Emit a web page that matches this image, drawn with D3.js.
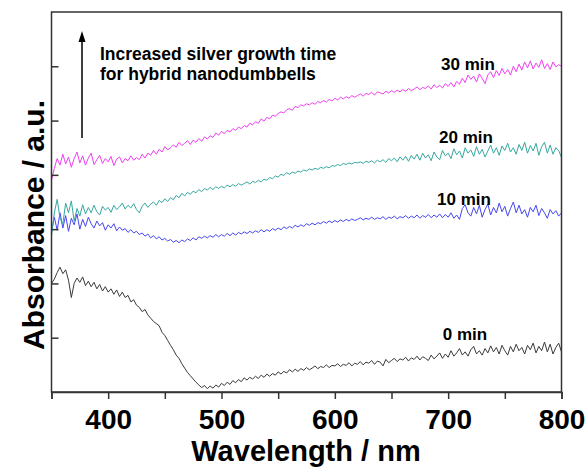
<!DOCTYPE html>
<html>
<head>
<meta charset="utf-8">
<script src="https://cdn.jsdelivr.net/npm/d3@7"></script>
<style>
  body { margin: 0; background: #fff; }
  text { font-family: "Liberation Sans", Arial, sans-serif; font-weight: bold; }
</style>
</head>
<body>
<div id="chart"></div>
<script>
// Wavelength grid (nm), one reading every 2.5 nm from 350 to 800
var wavelengths = d3.range(0, 181).map(function (i) { return 350 + i * 2.5; });

// Absorbance readings (a.u., offset per curve as in the figure), 4 per 10 nm
var abs0 = [
  2.00, 2.08, 2.20, 2.30, 2.18, 2.25, 2.06, 1.74, 2.00, 2.10, 2.02, 2.12,
  1.96, 2.04, 1.94, 2.02, 1.90, 1.98, 1.86, 1.94, 1.84, 1.90, 1.80, 1.88,
  1.76, 1.84, 1.74, 1.78, 1.66, 1.70, 1.60, 1.56, 1.48, 1.52, 1.42, 1.36,
  1.30, 1.26, 1.22, 1.10, 1.04, 0.95, 0.86, 0.78, 0.68, 0.62, 0.52, 0.44,
  0.36, 0.30, 0.24, 0.18, 0.13, 0.08, 0.12, 0.06, 0.11, 0.07, 0.13, 0.09,
  0.16, 0.12, 0.18, 0.14, 0.21, 0.17, 0.23, 0.19, 0.26, 0.22, 0.27, 0.24,
  0.29, 0.25, 0.31, 0.27, 0.33, 0.29, 0.34, 0.31, 0.37, 0.33, 0.38, 0.35,
  0.41, 0.37, 0.42, 0.38, 0.43, 0.40, 0.45, 0.41, 0.44, 0.48, 0.43, 0.47,
  0.45, 0.50, 0.45, 0.49, 0.48, 0.52, 0.47, 0.51, 0.49, 0.54, 0.48, 0.53,
  0.51, 0.56, 0.50, 0.55, 0.53, 0.58, 0.51, 0.57, 0.55, 0.48, 0.60, 0.54,
  0.58, 0.62, 0.56, 0.61, 0.59, 0.64, 0.57, 0.63, 0.60, 0.66, 0.59, 0.65,
  0.62, 0.58, 0.68, 0.61, 0.66, 0.72, 0.62, 0.70, 0.64, 0.76, 0.66, 0.72,
  0.80, 0.68, 0.74, 0.66, 0.78, 0.84, 0.70, 0.76, 0.68, 0.80, 0.72, 0.85,
  0.74, 0.82, 0.70, 0.86, 0.76, 0.68, 0.84, 0.74, 0.88, 0.76, 0.82, 0.70,
  0.86, 0.78, 0.90, 0.72, 0.84, 0.76, 0.92, 0.74, 0.88, 0.70, 0.82, 0.90,
  0.74];

var abs10 = [
  2.95, 3.22, 2.98, 3.30, 3.02, 3.25, 2.96, 3.20, 3.08, 3.28, 3.00, 3.18,
  3.05, 3.22, 3.10, 3.02, 3.15, 3.06, 3.12, 2.98, 3.08, 3.02, 3.10, 2.97,
  3.04, 2.98, 3.01, 2.94, 2.99, 2.93, 2.96, 2.90, 2.93, 2.87, 2.91, 2.84,
  2.88, 2.82, 2.86, 2.80, 2.83, 2.78, 2.81, 2.76, 2.79, 2.75, 2.80, 2.77,
  2.82, 2.79, 2.84, 2.80, 2.86, 2.83, 2.87, 2.84, 2.88, 2.85, 2.90, 2.86,
  2.90, 2.87, 2.92, 2.88, 2.93, 2.89, 2.94, 2.91, 2.95, 2.92, 2.96, 2.93,
  2.97, 2.94, 2.99, 2.95, 2.99, 2.96, 3.01, 2.98, 3.02, 2.99, 3.04, 3.01,
  3.05, 3.02, 3.07, 3.04, 3.08, 3.05, 3.10, 3.07, 3.11, 3.08, 3.12, 3.10,
  3.14, 3.11, 3.15, 3.12, 3.16, 3.13, 3.17, 3.14, 3.18, 3.15, 3.19, 3.16,
  3.18, 3.21, 3.17, 3.20, 3.18, 3.22, 3.18, 3.21, 3.19, 3.23, 3.18, 3.22,
  3.20, 3.24, 3.19, 3.23, 3.21, 3.25, 3.20, 3.24, 3.21, 3.26, 3.20, 3.25,
  3.22, 3.27, 3.21, 3.26, 3.22, 3.28, 3.21, 3.27, 3.22, 3.30, 3.20, 3.26,
  3.18, 3.38, 3.45, 3.30, 3.24, 3.40, 3.28, 3.44, 3.22, 3.36, 3.46, 3.26,
  3.40, 3.30, 3.48, 3.32, 3.42, 3.24, 3.38, 3.50, 3.30, 3.44, 3.28, 3.36,
  3.22, 3.40, 3.32, 3.44, 3.25, 3.38, 3.30, 3.20, 3.36, 3.28, 3.34, 3.24,
  3.30];

var abs20 = [
  2.88, 3.30, 3.55, 3.20, 3.10, 3.48, 3.30, 3.52, 3.15, 3.38, 3.24, 3.45,
  3.28, 3.40, 3.30, 3.44, 3.32, 3.26, 3.42, 3.35, 3.40, 3.31, 3.44, 3.36,
  3.41, 3.48, 3.37, 3.44, 3.39, 3.47, 3.36, 3.30, 3.42, 3.48, 3.40, 3.46,
  3.50, 3.44, 3.53, 3.49, 3.56, 3.51, 3.58, 3.54, 3.62, 3.58, 3.66, 3.61,
  3.68, 3.64, 3.70, 3.67, 3.73, 3.69, 3.75, 3.72, 3.77, 3.73, 3.78, 3.75,
  3.79, 3.76, 3.81, 3.78, 3.82, 3.79, 3.84, 3.81, 3.84, 3.87, 3.83, 3.88,
  3.86, 3.90, 3.87, 3.92, 3.90, 3.95, 3.93, 3.98, 3.96, 4.01, 3.99, 4.04,
  4.01, 4.05, 4.03, 4.07, 4.05, 4.09, 4.07, 4.11, 4.09, 4.12, 4.10, 4.14,
  4.12, 4.15, 4.13, 4.17, 4.16, 4.19, 4.17, 4.21, 4.19, 4.22, 4.20, 4.23,
  4.22, 4.24, 4.21, 4.25, 4.23, 4.26, 4.22, 4.27, 4.24, 4.28, 4.23, 4.30,
  4.26, 4.31, 4.24, 4.33, 4.27, 4.34, 4.25, 4.36, 4.29, 4.38, 4.27, 4.40,
  4.31, 4.37, 4.26, 4.42, 4.33, 4.28, 4.45, 4.35, 4.40, 4.30, 4.48, 4.37,
  4.44, 4.31, 4.50, 4.40, 4.46, 4.34, 4.52, 4.38, 4.47, 4.33, 4.44, 4.55,
  4.40, 4.50, 4.36, 4.53, 4.45, 4.58, 4.42, 4.50, 4.38, 4.56, 4.45, 4.60,
  4.40, 4.54, 4.44, 4.58, 4.36, 4.52, 4.60, 4.40, 4.55, 4.38, 4.50, 4.45,
  4.32];

var abs30 = [
  3.90, 4.12, 4.30, 4.18, 4.38, 4.20, 4.33, 4.14, 4.30, 4.42, 4.22, 4.35,
  4.18, 4.31, 4.40, 4.19, 4.28, 4.36, 4.21, 4.30, 4.24, 4.34, 4.17, 4.29,
  4.33, 4.22, 4.30, 4.26, 4.35, 4.27, 4.32, 4.28, 4.38, 4.31, 4.40, 4.36,
  4.45, 4.38, 4.47, 4.42, 4.52, 4.46, 4.50, 4.55, 4.51, 4.60, 4.54, 4.58,
  4.63, 4.56, 4.64, 4.60, 4.67, 4.62, 4.70, 4.66, 4.72, 4.69, 4.77, 4.73,
  4.80, 4.76, 4.82, 4.79, 4.85, 4.82, 4.88, 4.85, 4.91, 4.88, 4.95, 4.92,
  4.98, 4.95, 5.03, 4.99, 5.06, 5.03, 5.10, 5.08, 5.13, 5.16, 5.14, 5.20,
  5.22, 5.19, 5.26, 5.24, 5.29, 5.27, 5.31, 5.29, 5.33, 5.30, 5.35, 5.33,
  5.37, 5.34, 5.39, 5.36, 5.41, 5.38, 5.43, 5.40, 5.44, 5.41, 5.46, 5.43,
  5.46, 5.49, 5.45, 5.50, 5.48, 5.52, 5.47, 5.53, 5.51, 5.49, 5.54, 5.51,
  5.55, 5.52, 5.56, 5.53, 5.57, 5.54, 5.59, 5.55, 5.58, 5.62, 5.57, 5.61,
  5.59, 5.64, 5.58, 5.66, 5.61, 5.65, 5.60, 5.68, 5.63, 5.70, 5.62, 5.72,
  5.67, 5.78, 5.70, 5.84, 5.76, 5.82, 5.71, 5.86, 5.78, 5.68, 5.84, 5.90,
  5.79, 5.92, 5.83, 5.96, 5.86, 5.94, 5.84, 6.00, 5.90, 6.04, 5.93, 6.08,
  5.97, 6.10, 5.95, 6.06, 5.98, 6.12, 5.96, 6.05, 5.94, 6.08, 5.99, 6.03,
  6.00];

var seriesNames = ["0 min", "10 min", "20 min", "30 min"];
var seriesColors = ["#3a3a3a", "#4646f0", "#35a8a0", "#f040f0"];
var xTicks = [350, 400, 450, 500, 550, 600, 650, 700, 750, 800];
var xTickLabels = [400, 500, 600, 700, 800];
var yTicks = [1, 2, 3, 4, 5, 6];

// Chart size
var width = 587;
var height = 470;
var margin = { top: 12, right: 25.5, bottom: 78, left: 51.5 };
var innerWidth = width - margin.left - margin.right;
var innerHeight = height - margin.top - margin.bottom;

var svg = d3.select("#chart")
  .append("svg")
  .attr("width", width)
  .attr("height", height);

var g = svg.append("g")
  .attr("transform", "translate(" + margin.left + "," + margin.top + ")");

var xScale = d3.scaleLinear().domain([350, 800]).range([0, innerWidth]);
var yScale = d3.scaleLinear().domain([0, 7]).range([innerHeight, 0]);

// Curves
var allSeries = [abs0, abs10, abs20, abs30];
var line = d3.line()
  .x(function (d, i) { return xScale(wavelengths[i]); })
  .y(function (d) { return yScale(d); });

allSeries.forEach(function (vals, k) {
  g.append("path")
    .datum(vals)
    .attr("fill", "none")
    .attr("stroke", seriesColors[k])
    .attr("stroke-width", 1)
    .attr("stroke-linejoin", "round")
    .attr("d", line);
});

// Frame
g.append("rect")
  .attr("width", innerWidth)
  .attr("height", innerHeight)
  .attr("fill", "none")
  .attr("stroke", "#333")
  .attr("stroke-width", 1.5);

// X axis: ticks outward, labels every 100 nm
var xAxis = g.append("g")
  .attr("transform", "translate(0," + innerHeight + ")")
  .call(d3.axisBottom(xScale)
    .tickValues(xTicks)
    .tickSize(7)
    .tickFormat(function (d) { return xTickLabels.indexOf(d) >= 0 ? d : ""; }));
xAxis.select(".domain").attr("stroke", "#333").attr("stroke-width", 1.5);
xAxis.selectAll(".tick line").attr("stroke", "#333").attr("stroke-width", 1.5);
xAxis.selectAll(".tick text")
  .attr("fill", "#000")
  .attr("font-size", "28px")
  .attr("font-family", "Liberation Sans, Arial, sans-serif")
  .attr("font-weight", "bold")
  .attr("dy", null)
  .attr("y", 37);

// Y axis: unlabelled ticks pointing inward
var yAxis = g.append("g")
  .call(d3.axisLeft(yScale).tickValues(yTicks).tickSize(-7).tickFormat(""));
yAxis.select(".domain").remove();
yAxis.selectAll(".tick line").attr("stroke", "#333").attr("stroke-width", 1.5);

// Axis titles
svg.append("text")
  .attr("x", 306)
  .attr("y", 461)
  .attr("text-anchor", "middle")
  .attr("font-size", "29px")
  .text("Wavelength / nm");

svg.append("text")
  .attr("transform", "translate(44,225) rotate(-90)")
  .attr("text-anchor", "middle")
  .attr("font-size", "30px")
  .text("Absorbance / a.u.");

// Curve labels
var labelPos = [[465, 340], [464, 205], [466, 143], [468, 70]];
seriesNames.forEach(function (name, k) {
  svg.append("text")
    .attr("x", labelPos[k][0])
    .attr("y", labelPos[k][1])
    .attr("text-anchor", "middle")
    .attr("font-size", "17px")
    .text(name);
});

// Annotation arrow and text
svg.append("line")
  .attr("x1", 82).attr("x2", 82)
  .attr("y1", 138).attr("y2", 40)
  .attr("stroke", "#000")
  .attr("stroke-width", 1.5);
svg.append("path")
  .attr("d", "M82,31 L85.5,42 L78.5,42 Z")
  .attr("fill", "#000");

var note = svg.append("text").attr("font-size", "17.5px");
note.append("tspan").attr("x", 100).attr("y", 60).text("Increased silver growth time");
note.append("tspan").attr("x", 100).attr("y", 80).text("for hybrid nanodumbbells");
</script>
</body>
</html>
